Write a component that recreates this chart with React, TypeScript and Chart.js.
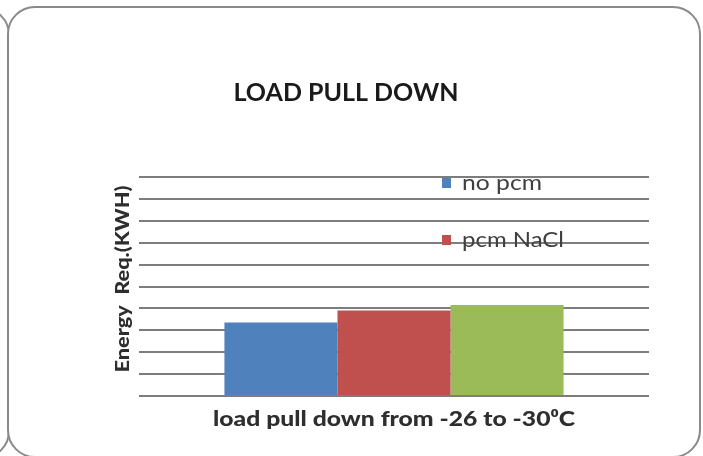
import React, { useEffect, useRef } from "react";
import { Chart, registerables } from "chart.js";

Chart.register(...registerables);

const categories = ["load pull down from -26 to -30⁰C"];
const seriesNames = ["no pcm", "pcm NaCl", "pcm other"];
const noPcm = [3.36];
const pcmNaCl = [3.9];
const pcmOther = [4.16];
const yTicks = [0, 1, 2, 3, 4, 5, 6, 7, 8, 9, 10];

const titleText = "LOAD PULL DOWN";
const yTitle = "Energy  Req.(KWH)";
const xTitle = "load pull down from -26 to -30⁰C";

const COLORS = ["#4F81BD", "#C0504D", "#9BBB59"];
const FONT = "Lato, 'Open Sans', 'Liberation Sans', sans-serif";

function fitText(ctx: CanvasRenderingContext2D, text: string, x: number, y: number, targetW: number, align: "left" | "center") {
  const w = ctx.measureText(text).width;
  const s = targetW / w;
  ctx.save();
  ctx.translate(x, y);
  ctx.scale(s, 1);
  ctx.textAlign = align;
  ctx.fillText(text, 0, 0);
  ctx.restore();
}

const textPlugin = {
  id: "textPlugin",
  afterDraw(chart: any) {
    const ctx = chart.ctx as CanvasRenderingContext2D;
    ctx.save();
    ctx.textBaseline = "middle";
    // Title
    ctx.fillStyle = "#1a1a1a";
    ctx.font = `bold 25px ${FONT}`;
    fitText(ctx, titleText, 346, 93, 225, "center");
    // X title
    ctx.fillStyle = "#2e2e2e";
    ctx.font = `900 21px ${FONT}`;
    fitText(ctx, xTitle, 394, 419, 362, "center");
    // Y title
    ctx.save();
    ctx.translate(123, 279);
    ctx.rotate(-Math.PI / 2);
    ctx.font = `900 19px ${FONT}`;
    fitText(ctx, yTitle, 0, 0, 187, "center");
    ctx.restore();
    // Legend (first two entries visible)
    const legendY = [183, 240];
    const legendW = [80, 102];
    ctx.font = `22px ${FONT}`;
    for (let i = 0; i < 2; i++) {
      const ds = chart.data.datasets[i];
      ctx.fillStyle = ds.backgroundColor;
      ctx.fillRect(442, legendY[i] - 5, 9, 10);
      ctx.fillStyle = "#404040";
      fitText(ctx, ds.label, 462, legendY[i], legendW[i], "left");
    }
    ctx.restore();
  },
};

export default function App() {
  const ref = useRef<HTMLCanvasElement | null>(null);
  useEffect(() => {
    if (!ref.current) return;
    const chart = new Chart(ref.current, {
      type: "bar",
      data: {
        labels: categories,
        datasets: [noPcm, pcmNaCl, pcmOther].map((d, i) => ({
          label: seriesNames[i],
          data: d,
          backgroundColor: COLORS[i],
          borderWidth: 0,
          categoryPercentage: 0.665,
          barPercentage: 1,
        })),
      },
      options: {
        animation: false,
        responsive: false,
        maintainAspectRatio: false,
        layout: { padding: { left: 139, right: 54, top: 177, bottom: 60 } },
        plugins: {
          legend: { display: false },
          title: { display: false },
          tooltip: { enabled: false },
        },
        scales: {
          x: { display: false },
          y: {
            min: yTicks[0],
            max: yTicks[yTicks.length - 1],
            afterBuildTicks: (scale: any) => {
              scale.ticks = yTicks.map((v) => ({ value: v }));
            },
            ticks: { display: false },
            grid: { color: "#7d7d7d", lineWidth: 2, drawTicks: false },
            border: { display: false },
          },
        },
      },
      plugins: [textPlugin],
    });
    return () => chart.destroy();
  }, []);

  return (
    <div style={{ position: "fixed", left: 0, top: 0, width: 703, height: 456, background: "#fff", overflow: "hidden" }}>
      <div style={{ position: "absolute", left: -682, top: 7, width: 688, height: 448, border: "2px solid #8a8a8a", borderRadius: 28 }} />
      <div style={{ position: "absolute", left: 7, top: 6, width: 690, height: 448, border: "2px solid #8a8a8a", borderRadius: 28, background: "#fff" }} />
      <canvas ref={ref} width={703} height={456} style={{ position: "absolute", left: 0, top: 0 }} />
    </div>
  );
}
